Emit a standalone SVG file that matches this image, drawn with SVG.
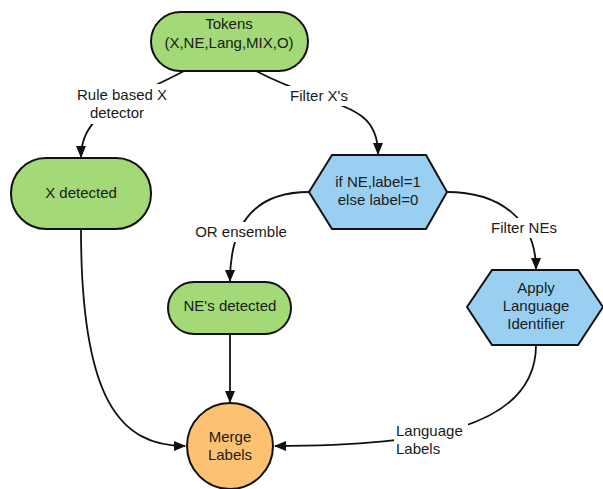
<svg xmlns="http://www.w3.org/2000/svg" width="603" height="489" viewBox="0 0 603 489">
<style>
text{font-family:"Liberation Sans",Arial,sans-serif;font-size:15px;fill:#1a1a1a;text-anchor:middle}
.g{fill:#a3d977;stroke:#111;stroke-width:2}
.b{fill:#99d0f2;stroke:#111;stroke-width:2}
.o{fill:#fdc172;stroke:#111;stroke-width:2}
.c{fill:none;stroke:#111;stroke-width:1.8}
.lb{fill:#fff;stroke:none}
</style>
<defs>
<marker id="ah" viewBox="0 0 12 12" refX="11" refY="6" markerWidth="12" markerHeight="12" markerUnits="userSpaceOnUse" orient="auto">
<path d="M0,1 L12,6 L0,11 z" fill="#111"/>
</marker>
</defs>
<g id="connectors">
<path class="c" d="M184,71 C130,100 81,110 81,157" marker-end="url(#ah)"/>
<path class="c" d="M256,71 C330,110 378,100 378,154" marker-end="url(#ah)"/>
<path class="c" d="M309,192 C250,192 230,230 230,281" marker-end="url(#ah)"/>
<path class="c" d="M447,192 C500,192 536,220 536,269" marker-end="url(#ah)"/>
<path class="c" d="M81,229 C81,400 120,446 185,446" marker-end="url(#ah)"/>
<path class="c" d="M230,334 L230,402" marker-end="url(#ah)"/>
<path class="c" d="M536,345 C536,430 420,446 275,446" marker-end="url(#ah)"/>
<rect class="lb" x="72" y="84" width="104" height="40"/>
<text x="122" y="100">Rule based X</text>
<text x="117" y="118">detector</text>
<rect class="lb" x="284" y="86" width="72" height="20"/>
<text x="319" y="101">Filter X's</text>
<rect class="lb" x="192" y="222" width="98" height="20"/>
<text x="241" y="237">OR ensemble</text>
<rect class="lb" x="488" y="218" width="72" height="20"/>
<text x="524" y="233">Filter NEs</text>
<rect class="lb" x="394" y="422" width="74" height="36"/>
<text x="396" y="436" style="text-anchor:start">Language</text>
<text x="396" y="454" style="text-anchor:start">Labels</text>
</g>
<g id="tokens">
<rect class="g" x="151" y="12" width="157" height="59" rx="29.5"/>
<text x="229" y="29">Tokens</text>
<text x="229" y="48">(X,NE,Lang,MIX,O)</text>
</g>
<g id="x-detected">
<rect class="g" x="11" y="158" width="140" height="71" rx="35"/>
<text x="81" y="198">X detected</text>
</g>
<g id="ne-detected">
<rect class="g" x="168" y="282" width="123" height="52" rx="26"/>
<text x="230" y="311">NE's detected</text>
</g>
<g id="if-ne">
<polygon class="b" points="309,192 332,155 426,155 447,192 426,229 332,229"/>
<text x="378" y="187">if NE,label=1</text>
<text x="378" y="205">else label=0</text>
</g>
<g id="apply-lang">
<polygon class="b" points="467,307 492,270 578,270 603,307 578,345 492,345"/>
<text x="536" y="293">Apply</text>
<text x="536" y="311">Language</text>
<text x="536" y="329">Identifier</text>
</g>
<g id="merge">
<circle class="o" cx="230" cy="446" r="43"/>
<text x="230" y="442">Merge</text>
<text x="230" y="460">Labels</text>
</g>
</svg>
